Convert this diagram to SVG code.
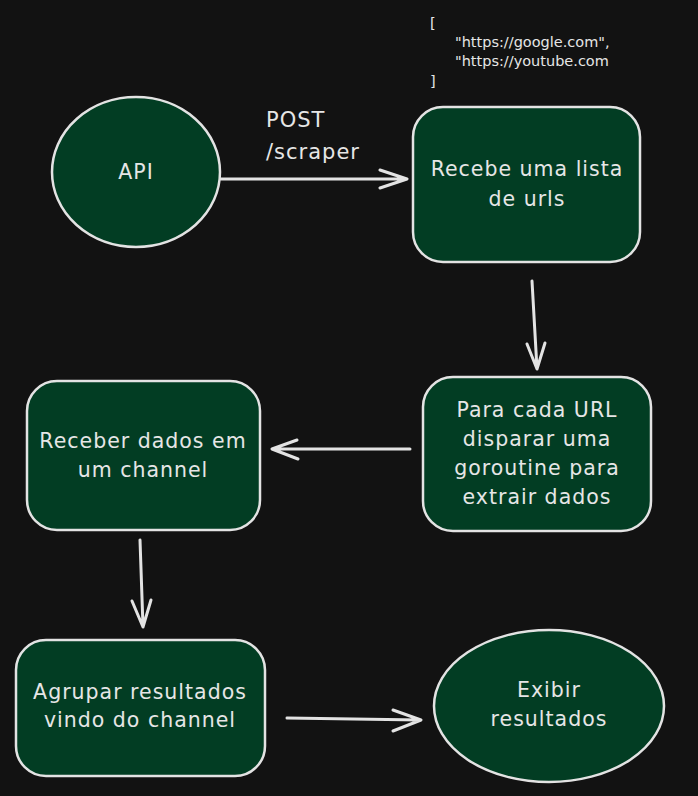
<svg xmlns="http://www.w3.org/2000/svg" width="698" height="796" viewBox="0 0 698 796">
<defs>
<style>
.bg{fill:#121212}
.node{fill:#023d23;stroke:#e3e3e3;stroke-width:2.5}
.t{font-family:"DejaVu Sans","Liberation Sans",sans-serif;font-size:20.5px;letter-spacing:1px;fill:#e6e6e6;text-anchor:middle}
.lbl{font-family:"DejaVu Sans","Liberation Sans",sans-serif;font-size:21px;letter-spacing:1px;fill:#e6e6e6}
.code{font-family:"DejaVu Sans","Liberation Sans",sans-serif;font-size:14.5px;fill:#e6e6e6}
.edge{fill:none;stroke:#e3e3e3;stroke-width:3;stroke-linecap:round;stroke-linejoin:round}
</style>
</defs>
<rect class="bg" x="0" y="0" width="698" height="796"/>
<g id="json-note">
<text class="code" x="430" y="28">[</text>
<text class="code" x="455" y="47">"https://google.com",</text>
<text class="code" x="455" y="66">"https://youtube.com</text>
<text class="code" x="430" y="86">]</text>
</g>
<g id="api">
<ellipse class="node" cx="136" cy="172" rx="84" ry="75"/>
<text class="t" x="136" y="179">API</text>
</g>
<g id="recebe">
<rect class="node" x="413" y="107" width="227" height="155" rx="30"/>
<text class="t" x="527" y="176">Recebe uma lista</text>
<text class="t" x="527" y="206">de urls</text>
</g>
<g id="para-cada">
<rect class="node" x="423" y="377" width="228" height="154" rx="30"/>
<text class="t" x="537" y="417">Para cada URL</text>
<text class="t" x="537" y="446">disparar uma</text>
<text class="t" x="537" y="475">goroutine para</text>
<text class="t" x="537" y="504">extrair dados</text>
</g>
<g id="receber">
<rect class="node" x="27" y="381" width="233" height="149" rx="30"/>
<text class="t" x="143" y="448">Receber dados em</text>
<text class="t" x="143" y="477">um channel</text>
</g>
<g id="agrupar">
<rect class="node" x="16" y="640" width="249" height="136" rx="30"/>
<text class="t" x="140" y="699">Agrupar resultados</text>
<text class="t" x="140" y="727">vindo do channel</text>
</g>
<g id="exibir">
<ellipse class="node" cx="549" cy="706" rx="115" ry="76"/>
<text class="t" x="549" y="697">Exibir</text>
<text class="t" x="549" y="726">resultados</text>
</g>
<g id="connectors">
<path class="edge" d="M221 179 L406 179 M380 170 L407 179 L380 188"/>
<text class="lbl" x="266" y="127">POST</text>
<text class="lbl" x="266" y="159">/scraper</text>
<path class="edge" d="M532 281 L537 369 M527 344 L537 369 L545 343"/>
<path class="edge" d="M410 449 L273 449 M297 440 L272 449 L298 459"/>
<path class="edge" d="M140 540 L143 627 M132 601 L143 627 L151 600"/>
<path class="edge" d="M287 718 L420 720 M393 710 L421 720 L393 731"/>
</g>
</svg>
